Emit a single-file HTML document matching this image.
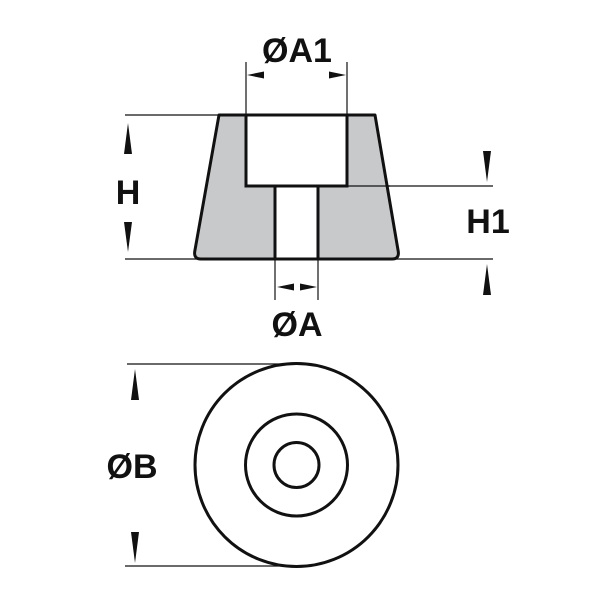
<!DOCTYPE html>
<html><head><style>body{margin:0;background:#fff}svg{display:block}</style></head><body>
<svg width="600" height="600" viewBox="0 0 600 600" xmlns="http://www.w3.org/2000/svg">
<g stroke="#111" stroke-width="1.2" fill="none">
<line x1="125" y1="115" x2="220" y2="115"/>
<line x1="125" y1="259" x2="200" y2="259"/>
<line x1="395" y1="259" x2="493" y2="259"/>
<line x1="347" y1="186" x2="493" y2="186"/>
<line x1="246" y1="62" x2="246" y2="115"/>
<line x1="347" y1="62" x2="347" y2="115"/>
<line x1="275" y1="259" x2="275" y2="300"/>
<line x1="318" y1="259" x2="318" y2="300"/>
<line x1="127" y1="364" x2="296" y2="364"/>
<line x1="125" y1="566" x2="296" y2="566"/>
</g>
<path d="M219 115 L375 115 L398 250 Q400 259 392 259 L201 259 Q193 259 195 250 Z" fill="#c8c9cb" stroke="#111" stroke-width="3" stroke-linejoin="round"/>
<rect x="275" y="186" width="43" height="73" fill="#fff" stroke="#111" stroke-width="3"/>
<rect x="246" y="115" width="101" height="71" fill="#fff" stroke="#111" stroke-width="3"/>
<line x1="347" y1="186" x2="390" y2="186" stroke="#111" stroke-width="1.2"/>
<g fill="#111">
<polygon points="247,75 264,71.5 264,78.5"/>
<polygon points="346,75 329,71.5 329,78.5"/>
<polygon points="277,287 294,283.5 294,290.5"/>
<polygon points="317,287 300,283.5 300,290.5"/>
<polygon points="128,123 124,154 132,154"/>
<polygon points="128,252 124,222 132,222"/>
<polygon points="487,182 483,151 491,151"/>
<polygon points="487,264 483,295 491,295"/>
<polygon points="135,369 131,400 139,400"/>
<polygon points="135,563 131,532 139,532"/>
</g>
<g fill="none" stroke="#111" stroke-width="3">
<circle cx="296.5" cy="465" r="101.5"/>
<circle cx="296.5" cy="465" r="51"/>
<circle cx="296.5" cy="465" r="22.5"/>
</g>
<g font-family="Liberation Sans, sans-serif" font-weight="bold" font-size="34" fill="#111" text-anchor="middle">
<text x="297" y="62">ØA1</text>
<text x="128" y="204">H</text>
<text x="488" y="233">H1</text>
<text x="297" y="336">ØA</text>
<text x="132" y="478">ØB</text>
</g>
</svg>
</body></html>
